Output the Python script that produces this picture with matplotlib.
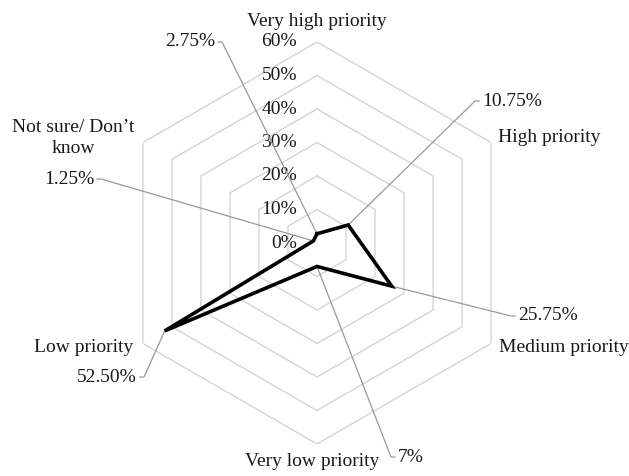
import numpy as np
import matplotlib
matplotlib.use("Agg")
import matplotlib.pyplot as plt
from matplotlib.transforms import offset_copy

plt.rcParams["font.family"] = ["Liberation Serif", "DejaVu Serif"]

# Survey results: priority given to the topic
categories = ["Very high priority", "High priority", "Medium priority",
              "Very low priority", "Low priority", "Not sure/ Don\u2019t\nknow"]
values = [2.75, 10.75, 25.75, 7.0, 52.50, 1.25]
value_labels = ["2.75%", "10.75%", "25.75%", "7%", "52.50%", "1.25%"]
ring_ticks = [0, 10, 20, 30, 40, 50, 60]
ring_labels = ["0%", "10%", "20%", "30%", "40%", "50%", "60%"]

W, H = 629, 476
DPI = 100
fig = plt.figure(figsize=(W / DPI, H / DPI), dpi=DPI)

cx, cy, R = 317, 243, 201  # pixel centre and outer radius of the plot area
ax = fig.add_axes([(cx - R) / W, (H - cy - R) / H, 2 * R / W, 2 * R / H],
                  projection="polar")
ax.set_theta_zero_location("N")
ax.set_theta_direction(-1)
ax.set_ylim(0, 60)
ax.grid(False)
ax.set_xticks([])
ax.set_yticks([])
ax.spines["polar"].set_visible(False)
ax.patch.set_alpha(0)

n = len(categories)
theta = np.arange(n) * 2 * np.pi / n
theta_closed = np.append(theta, theta[0])

TEXT = "#1a1a1a"
GRID = "#d4d4d4"
LEADER = "#999999"
FS = 14

# hexagonal gridlines
for r in ring_ticks[1:]:
    ax.plot(theta_closed, [r] * (n + 1), color=GRID, lw=1.0, zorder=1)

# ring value labels, left of the vertical axis
lab_tr = offset_copy(ax.transData, fig=fig, x=-20, y=0, units="dots")
for r, s in zip(ring_ticks, ring_labels):
    ax.text(0, r, s, transform=lab_tr, ha="right", va="center",
            fontsize=FS, color=TEXT, zorder=3)

# data series
vals_closed = values + [values[0]]
ax.plot(theta_closed, vals_closed, color="black", lw=2.6,
        solid_joinstyle="miter", zorder=4)

# category names (x, y in image pixels from top-left, alignment)
cat_pos = [
    (317, 21, "center"),
    (498, 137, "left"),
    (499, 347, "left"),
    (312, 461, "center"),
    (133, 348, "right"),
    (73, 138, "center"),
]
for name, (x, y, ha) in zip(categories, cat_pos):
    fig.text(x / W, 1 - y / H, name, ha=ha, va="center", fontsize=FS,
             color=TEXT, multialignment="center", linespacing=1.35)

# value labels with leader lines
val_pos = [
    (215, 42, "right"),
    (482, 101, "left"),
    (518, 316, "left"),
    (398, 457, "left"),
    (137, 377, "right"),
    (94, 179, "right"),
]
for t, v, s, (x, y, ha) in zip(theta, values, value_labels, val_pos):
    if ha == "right":
        relpos, angA = (1, 0.5), 0
    else:
        relpos, angA = (0, 0.5), 180
    ax.annotate(s, xy=(t, v), xycoords="data",
                xytext=(x, H - y), textcoords="figure pixels",
                ha=ha, va="center", fontsize=FS, color=TEXT,
                arrowprops=dict(arrowstyle="-", color=LEADER, lw=0.9,
                                relpos=relpos, patchA=None, shrinkA=2,
                                shrinkB=0,
                                connectionstyle=f"arc,angleA={angA},angleB=0,armA=7,armB=0,rad=0"),
                zorder=3)

fig.savefig("out.png", dpi=DPI, facecolor="white")
